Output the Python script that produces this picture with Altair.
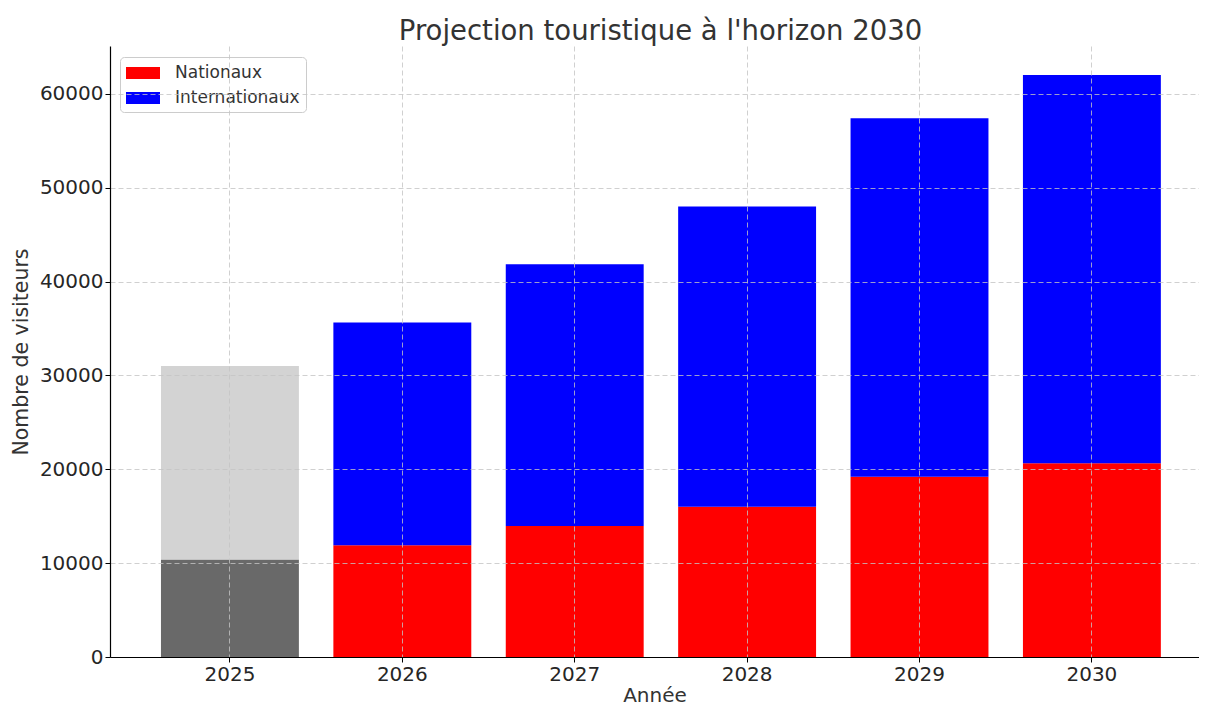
import altair as alt
import pandas as pd

years = ["2025", "2026", "2027", "2028", "2029", "2030"]
nationaux = [10400, 11900, 13950, 16000, 19200, 20650]
internationaux = [20600, 23750, 27900, 32000, 38200, 41350]
types = ["Nationaux", "Internationaux"]
colors = ["#ff0000", "#0000ff"]
grey_2025 = {"Nationaux": "#696969", "Internationaux": "#d3d3d3"}
y_ticks = [0, 10000, 20000, 30000, 40000, 50000, 60000]

rows = []
for yr, n, i in zip(years, nationaux, internationaux):
    rows.append({"Année": yr, "Type": "Nationaux", "start": 0, "end": n,
                 "gris": grey_2025["Nationaux"]})
    rows.append({"Année": yr, "Type": "Internationaux", "start": n, "end": n + i,
                 "gris": grey_2025["Internationaux"]})
df = pd.DataFrame(rows)

FONT = "DejaVu Sans"

x_enc = alt.X(
    "Année:N",
    scale=alt.Scale(domain=years, paddingInner=0.2, paddingOuter=0.2585, align=0.572),
    axis=alt.Axis(
        title="Année", labelAngle=0, bandPosition=0.5, grid=True,
        gridDash=[5, 3], gridColor="#c4c4c4", gridWidth=0.8,
        domainColor="#000000", domainWidth=1.2, tickColor="#000000", tickSize=5,
        labelFontSize=20, labelColor="#262626", labelPadding=2,
        titleFontSize=20, titleColor="#333333", titlePadding=1,
        labelFont=FONT, titleFont=FONT, titleFontWeight="normal", zindex=1,
    ),
)
y_enc = alt.Y(
    "start:Q",
    scale=alt.Scale(domain=[0, 65100], nice=False),
    axis=alt.Axis(
        title="Nombre de visiteurs", values=y_ticks, format="d", grid=True,
        gridDash=[5, 3], gridColor="#c4c4c4", gridWidth=0.8,
        domainColor="#000000", domainWidth=1.2, tickColor="#000000", tickSize=5,
        labelFontSize=20, labelColor="#262626", labelPadding=2,
        titleFontSize=20.5, titleColor="#333333", titlePadding=8,
        labelFont=FONT, titleFont=FONT, titleFontWeight="normal", zindex=1,
    ),
)

base = alt.Chart(df).encode(x=x_enc, y=y_enc, y2="end:Q")

main = base.transform_filter("datum['Année'] != '2025'").mark_bar().encode(
    color=alt.Color(
        "Type:N",
        scale=alt.Scale(domain=types, range=colors),
        legend=alt.Legend(
            title=None, orient="none", legendX=10, legendY=11,
            symbolType="M-1,-0.6H2.4V0.6H-1Z", symbolSize=400,
            symbolStrokeWidth=0, symbolOpacity=1, labelOffset=29,
            labelFontSize=17, labelFont=FONT, labelColor="#333333",
            fillColor="#ffffff", strokeColor="#cccccc", cornerRadius=4,
            padding=6, rowPadding=7,
        ),
    )
)

first = base.transform_filter("datum['Année'] == '2025'").mark_bar().encode(
    color=alt.Color("gris:N", scale=None)
)

chart = alt.layer(first, main).properties(
    width=1089, height=611,
    title=alt.TitleParams(
        "Projection touristique à l'horizon 2030", fontSize=27.5, font=FONT,
        fontWeight="normal", color="#333333", anchor="middle", offset=1, dx=6,
    ),
    autosize="none",
    padding={"left": 102, "top": 38, "right": 0, "bottom": 49},
).configure_view(stroke=None)

chart.save("out.html", embed_options={"renderer": "svg", "actions": False})
